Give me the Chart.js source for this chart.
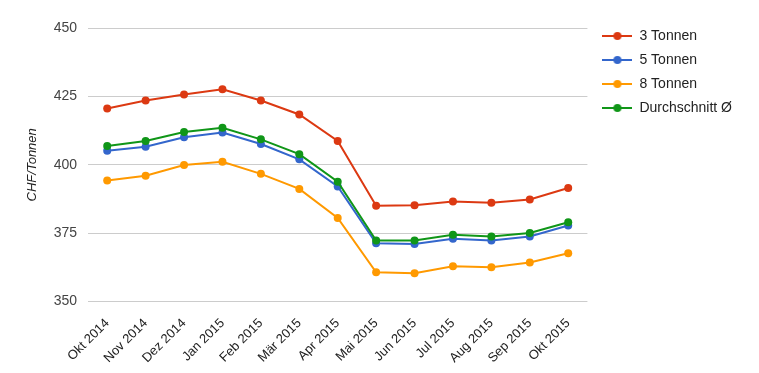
<!DOCTYPE html>
<html>
<head>
<meta charset="utf-8">
<title>CHF/Tonnen</title>
<script src="https://cdn.jsdelivr.net/npm/chart.js@4/dist/chart.umd.min.js"></script>
<style>
    body { margin: 0; background: #fff; }
    #wrap { width: 759px; height: 373px; position: relative; }
</style>
</head>
<body>
<div id="wrap"><canvas id="priceChart"></canvas></div>
<script>
// Data
const months = ['Okt 2014', 'Nov 2014', 'Dez 2014', 'Jan 2015', 'Feb 2015', 'Mär 2015', 'Apr 2015',
    'Mai 2015', 'Jun 2015', 'Jul 2015', 'Aug 2015', 'Sep 2015', 'Okt 2015'];
const tonnen3 = [420.6, 423.5, 425.7, 427.6, 423.5, 418.4, 408.7, 385.0, 385.2, 386.6, 386.1, 387.3, 391.5];
const tonnen5 = [405.1, 406.6, 410.1, 411.8, 407.6, 402.0, 392.1, 371.3, 371.1, 373.0, 372.3, 373.8, 377.8];
const tonnen8 = [394.3, 396.0, 399.9, 401.1, 396.7, 391.2, 380.6, 360.7, 360.4, 362.9, 362.6, 364.3, 367.7];
const average = [406.9, 408.7, 412.0, 413.5, 409.3, 403.9, 393.8, 372.3, 372.3, 374.4, 373.8, 375.1, 379.0];
const yTicks = [350, 375, 400, 425, 450];

const COLORS = {
    red: '#dc3912',
    blue: '#3366cc',
    orange: '#ff9900',
    green: '#109618',
    grid: '#cccccc',
    text: '#222222',
    axisText: '#444444'
};

const FONT = 'Arial, "Liberation Sans", sans-serif';

// small line-with-dot icon for the legend
function legendIcon(color) {
    const c = document.createElement('canvas');
    c.width = 30;
    c.height = 10;
    const g = c.getContext('2d');
    g.strokeStyle = color;
    g.lineWidth = 2;
    g.beginPath();
    g.moveTo(0, 5);
    g.lineTo(30, 5);
    g.stroke();
    g.fillStyle = color;
    g.beginPath();
    g.arc(15, 5, 4, 0, Math.PI * 2);
    g.fill();
    return c;
}

function series(label, data, color, order) {
    return {
        label: label,
        data: data,
        borderColor: color,
        backgroundColor: color,
        pointBackgroundColor: color,
        pointBorderWidth: 0,
        pointRadius: 4,
        borderWidth: 2,
        tension: 0,
        fill: false,
        order: order
    };
}

// put the legend where the reference has it (rows a bit above the plot top)
const legendShift = {
    id: 'legendShift',
    afterLayout(chart) {
        chart.legend.top -= 9;
        chart.legend.left = chart.chartArea.right + 5;
    }
};

const ctx = document.getElementById('priceChart').getContext('2d');
new Chart(ctx, {
    type: 'line',
    data: {
        labels: months,
        datasets: [
            series('3 Tonnen', tonnen3, COLORS.red, 3),
            series('5 Tonnen', tonnen5, COLORS.blue, 2),
            series('8 Tonnen', tonnen8, COLORS.orange, 1),
            series('Durchschnitt Ø', average, COLORS.green, 0)
        ]
    },
    options: {
        responsive: true,
        maintainAspectRatio: false,
        animation: false,
        layout: { padding: { top: 28, right: 22, bottom: 1, left: 0 } },
        plugins: {
            tooltip: { enabled: false },
            legend: {
                position: 'right',
                align: 'start',
                labels: {
                    usePointStyle: true,
                    pointStyleWidth: 30,
                    padding: 10,
                    color: COLORS.text,
                    font: { family: FONT, size: 14 },
                    sort: (a, b) => a.datasetIndex - b.datasetIndex,
                    generateLabels(chart) {
                        const items = Chart.defaults.plugins.legend.labels.generateLabels(chart);
                        items.forEach((item) => {
                            const ds = chart.data.datasets[item.datasetIndex];
                            item.pointStyle = legendIcon(ds.borderColor);
                        });
                        return items;
                    }
                }
            }
        },
        scales: {
            x: {
                offset: true,
                grid: { display: false },
                border: { display: false },
                ticks: {
                    color: COLORS.text,
                    font: { family: FONT, size: 13 },
                    minRotation: 45,
                    maxRotation: 45,
                    autoSkip: false,
                    padding: 6
                }
            },
            y: {
                min: 350,
                max: 450,
                afterBuildTicks(scale) {
                    scale.ticks = yTicks.map((v) => ({ value: v }));
                },
                grid: { color: COLORS.grid, drawTicks: false },
                border: { display: false },
                ticks: {
                    color: COLORS.axisText,
                    font: { family: FONT, size: 14 },
                    padding: 11
                },
                title: {
                    display: true,
                    text: 'CHF/Tonnen',
                    color: COLORS.text,
                    font: { family: FONT, size: 13, style: 'italic' },
                    padding: { top: 25, bottom: 0 }
                },
                afterFit(scale) {
                    scale.width = 88;
                }
            }
        }
    },
    plugins: [legendShift]
});
</script>
</body>
</html>
